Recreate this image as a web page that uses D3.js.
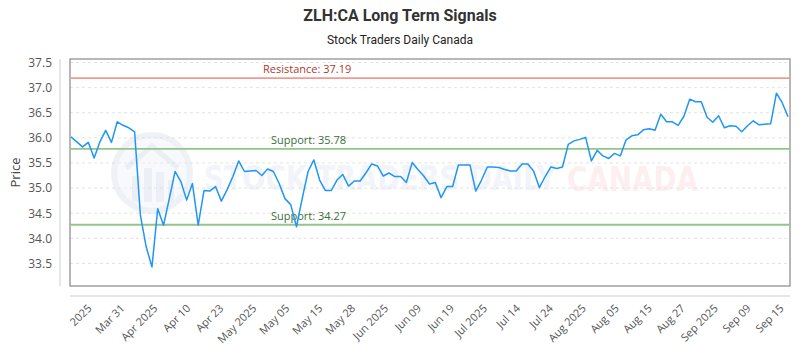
<!DOCTYPE html>
<html>
<head>
<meta charset="utf-8">
<script src="https://cdn.jsdelivr.net/npm/d3@7/dist/d3.min.js"></script>
<style>
  body { margin: 0; background: #fff; }
  svg { display: block; font-family: "Open Sans", sans-serif; }
</style>
</head>
<body>
<div class="chart"></div>
<script>
// closing prices, one per trading day
var prices = [
  36.02, 35.92, 35.82, 35.91, 35.60, 35.92, 36.15, 35.91, 36.32, 36.25,
  36.20, 36.12, 34.46, 33.83, 33.43, 34.59, 34.26, 34.79, 35.33, 35.13,
  34.76, 35.09, 34.26, 34.95, 34.94, 35.03, 34.74, 34.97, 35.23, 35.54,
  35.33, 35.34, 35.35, 35.25, 35.38, 35.33, 35.09, 34.79, 34.67, 34.23,
  34.80, 35.33, 35.56, 35.16, 34.95, 34.95, 35.16, 35.27, 35.04, 35.14,
  35.14, 35.30, 35.48, 35.44, 35.24, 35.30, 35.23, 35.23, 35.11, 35.51,
  35.37, 35.24, 35.08, 35.11, 34.81, 35.03, 35.03, 35.46, 35.46, 35.46,
  34.94, 35.16, 35.42, 35.42, 35.41, 35.37, 35.34, 35.34, 35.48, 35.48,
  35.34, 35.01, 35.23, 35.42, 35.39, 35.42, 35.87, 35.94, 35.97, 36.01,
  35.54, 35.75, 35.64, 35.59, 35.69, 35.64, 35.96, 36.04, 36.06, 36.16,
  36.18, 36.15, 36.47, 36.32, 36.32, 36.25, 36.43, 36.77, 36.72, 36.72,
  36.41, 36.31, 36.44, 36.20, 36.24, 36.23, 36.12, 36.24, 36.34, 36.26,
  36.27, 36.28, 36.89, 36.70, 36.42
];

var tickLabels = ['2025', 'Mar 31', 'Apr 2025', 'Apr 10', 'Apr 23', 'May 2025', 'May 05',
  'May 15', 'May 28', 'Jun 2025', 'Jun 09', 'Jun 19', 'Jul 2025', 'Jul 14', 'Jul 24',
  'Aug 2025', 'Aug 05', 'Aug 15', 'Aug 27', 'Sep 2025', 'Sep 09', 'Sep 15'];
// where each label sits, in data-point units
var tickIndex = [3.7, 9.4, 15.1, 20.8, 26.5, 32.2, 37.9, 43.6, 49.3, 55.0, 60.7,
  66.4, 72.1, 77.8, 83.5, 89.2, 94.9, 100.6, 106.3, 112.0, 117.7, 123.4];

var yTicks = [33.5, 34.0, 34.5, 35.0, 35.5, 36.0, 36.5, 37.0, 37.5];
var resistance = [37.19];
var supports = [35.78, 34.27];

var width = 800, height = 350;
var plotLeft = 70, plotRight = 790, plotTop = 59, plotBottom = 286;

var svg = d3.select('.chart').append('svg')
  .attr('width', width)
  .attr('height', height);

var x = d3.scaleLinear().domain([0, prices.length - 1]).range([plotLeft + 1, plotRight - 2]);
var y = d3.scaleLinear().domain([33.05, 37.57]).range([plotBottom, plotTop]);

// titles
svg.append('text')
  .attr('x', 400).attr('y', 21)
  .attr('text-anchor', 'middle')
  .attr('font-family', 'Roboto, sans-serif')
  .attr('font-weight', 'bold')
  .attr('font-size', 16)
  .attr('fill', '#333')
  .text('ZLH:CA Long Term Signals');

svg.append('text')
  .attr('x', 400).attr('y', 44)
  .attr('text-anchor', 'middle')
  .attr('font-family', 'Roboto, sans-serif')
  .attr('font-size', 12)
  .attr('fill', '#222')
  .text('Stock Traders Daily Canada');

// grid
svg.selectAll('line.grid')
  .data(yTicks)
  .enter()
  .append('line')
  .attr('class', 'grid')
  .attr('x1', plotLeft).attr('x2', plotRight)
  .attr('y1', function (d) { return y(d); })
  .attr('y2', function (d) { return y(d); })
  .attr('stroke', '#e3e3e3')
  .attr('stroke-dasharray', '3,3');

// watermark
var wm = svg.append('g').attr('opacity', 0.4);
wm.append('circle')
  .attr('cx', 152).attr('cy', 173).attr('r', 38)
  .attr('fill', '#eef2f8')
  .attr('stroke', '#d6dfec')
  .attr('stroke-width', 6);
wm.append('path')
  .attr('d', 'M126,168 L152,146 L178,168')
  .attr('fill', 'none')
  .attr('stroke', '#cdd8e8')
  .attr('stroke-width', 5);
[[132, 176, 8, 26], [144, 168, 8, 34], [156, 172, 8, 30], [168, 180, 6, 22]].forEach(function (b) {
  wm.append('rect')
    .attr('x', b[0]).attr('y', b[1]).attr('width', b[2]).attr('height', b[3])
    .attr('fill', '#d2dcea');
});
wm.append('text')
  .attr('x', 204).attr('y', 190)
  .attr('font-family', '"DejaVu Sans", sans-serif')
  .attr('font-weight', 'bold')
  .attr('font-size', 34)
  .attr('textLength', 352)
  .attr('lengthAdjust', 'spacingAndGlyphs')
  .attr('fill', '#dfe6f1')
  .text('STOCK TRADERS DAILY');
wm.append('text')
  .attr('x', 567).attr('y', 191)
  .attr('font-family', '"DejaVu Sans", sans-serif')
  .attr('font-weight', 'bold')
  .attr('font-size', 34)
  .attr('textLength', 131)
  .attr('lengthAdjust', 'spacingAndGlyphs')
  .attr('fill', '#fcd9d9')
  .text('CANADA');

// plot frame
svg.append('rect')
  .attr('x', plotLeft).attr('y', plotTop)
  .attr('width', plotRight - plotLeft).attr('height', plotBottom - plotTop)
  .attr('fill', 'none')
  .attr('stroke', '#888')
  .attr('stroke-width', 1.2);

// y axis
var yAxis = svg.append('g')
  .attr('transform', 'translate(60,0)')
  .call(d3.axisLeft(y).tickValues(yTicks).tickFormat(d3.format('.1f')).tickSize(0).tickPadding(8));
yAxis.select('.domain').attr('stroke', '#ccc').attr('d', 'M0,' + plotTop + 'V' + plotBottom);
yAxis.selectAll('text')
  .attr('font-family', '"Open Sans", sans-serif')
  .attr('font-size', 12)
  .attr('fill', '#555');

svg.append('text')
  .attr('transform', 'translate(20,' + ((plotTop + plotBottom) / 2) + ') rotate(-90)')
  .attr('text-anchor', 'middle')
  .attr('font-size', 13)
  .attr('fill', '#444')
  .text('Price');

// x axis
svg.append('line')
  .attr('x1', plotLeft).attr('x2', plotRight)
  .attr('y1', 296).attr('y2', 296)
  .attr('stroke', '#ccc');

svg.selectAll('text.xtick')
  .data(tickIndex)
  .enter()
  .append('text')
  .attr('class', 'xtick')
  .attr('transform', function (d) { return 'translate(' + x(d) + ',309) rotate(-45)'; })
  .attr('text-anchor', 'end')
  .attr('font-size', 11)
  .attr('fill', '#555')
  .text(function (d, i) { return tickLabels[i]; });

// resistance / support
svg.selectAll('line.res')
  .data(resistance)
  .enter()
  .append('line')
  .attr('x1', plotLeft).attr('x2', plotRight)
  .attr('y1', function (d) { return y(d); })
  .attr('y2', function (d) { return y(d); })
  .attr('stroke', '#f19a90')
  .attr('stroke-width', 1.8);
svg.selectAll('text.res')
  .data(resistance)
  .enter()
  .append('text')
  .attr('x', 263)
  .attr('y', function (d) { return y(d) - 5; })
  .attr('font-size', 11)
  .attr('fill', '#b0392e')
  .text(function (d) { return 'Resistance: ' + d.toFixed(2); });

svg.selectAll('line.sup')
  .data(supports)
  .enter()
  .append('line')
  .attr('x1', plotLeft).attr('x2', plotRight)
  .attr('y1', function (d) { return y(d); })
  .attr('y2', function (d) { return y(d); })
  .attr('stroke', '#92c48c')
  .attr('stroke-width', 1.8);
svg.selectAll('text.sup')
  .data(supports)
  .enter()
  .append('text')
  .attr('x', 271)
  .attr('y', function (d) { return y(d) - 5; })
  .attr('font-size', 11)
  .attr('fill', '#3b6e3b')
  .text(function (d) { return 'Support: ' + d.toFixed(2); });

// price line
var line = d3.line()
  .x(function (d, i) { return x(i); })
  .y(function (d) { return y(d); });

svg.append('path')
  .datum(prices)
  .attr('d', line)
  .attr('fill', 'none')
  .attr('stroke', '#2196f3')
  .attr('stroke-width', 1.5)
  .attr('stroke-linejoin', 'round');
</script>
</body>
</html>
